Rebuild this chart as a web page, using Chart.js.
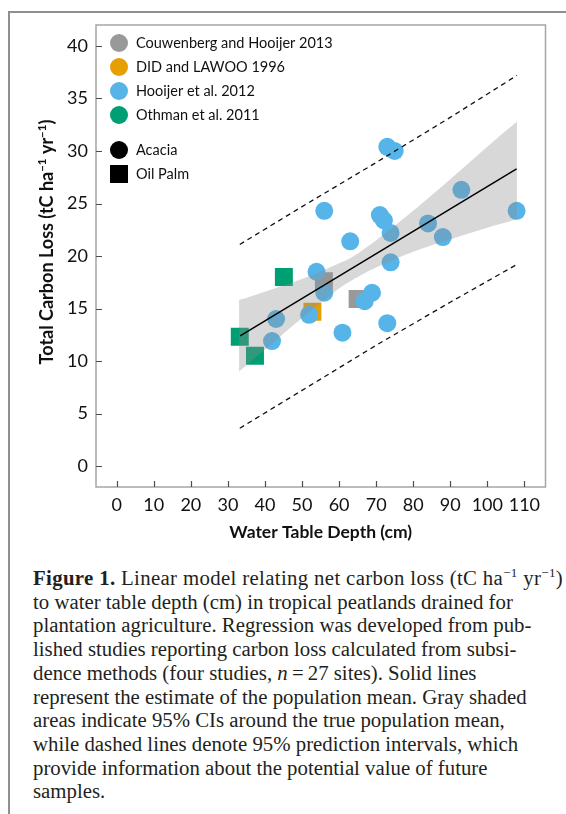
<!DOCTYPE html>
<html lang="en">
<head>
    <meta charset="utf-8" />
    <title>Carbon loss vs water table depth</title>
    <script src="https://cdn.jsdelivr.net/npm/chart.js"></script>
    <style>
        body {
            margin: 0;
            background: #fff;
            width: 566px;
            height: 814px;
            overflow: hidden;
            position: relative;
        }
        #page-frame {
            position: absolute;
            left: 8px;
            top: 11px;
            width: 600px;
            height: 900px;
            border-left: 2px solid #8f8f8f;
            border-top: 2px solid #8f8f8f;
        }
        #chart-box {
            position: absolute;
            left: 0;
            top: 0;
            width: 566px;
            height: 560px;
        }
        #caption {
            position: absolute;
            left: 33px;
            top: 566px;
            font-family: "Liberation Serif", "DejaVu Serif", serif;
            font-size: 20.8px;
            line-height: 23.7px;
            color: #231f20;
            white-space: nowrap;
        }
        #caption sup {
            font-size: 13px;
            line-height: 0;
        }
        #caption .first {
            letter-spacing: 0.35px;
        }
    </style>
</head>
<body>
    <div id="page-frame"></div>
    <div id="chart-box">
        <canvas id="carbonChart" width="566" height="560"></canvas>
    </div>
    <div id="caption">
        <span class="first"><b>Figure 1.</b> Linear model relating net carbon loss (tC ha<sup>&minus;1</sup> yr<sup>&minus;1</sup>)</span><br>
        to water table depth (cm) in tropical peatlands drained for<br>
        plantation agriculture. Regression was developed from pub-<br>
        lished studies reporting carbon loss calculated from subsi-<br>
        dence methods (four studies, <i>n</i>&thinsp;=&thinsp;27 sites). Solid lines<br>
        represent the estimate of the population mean. Gray shaded<br>
        areas indicate 95% CIs around the true population mean,<br>
        while dashed lines denote 95% prediction intervals, which<br>
        provide information about the potential value of future<br>
        samples.
    </div>

    <script>
        // --- data ---
        var hooijerX = [73.0, 75.0, 56.0, 71.0, 72.1, 63.0, 73.9, 84.0, 93.0, 107.9, 88.0,
                        73.9, 53.9, 56.0, 68.9, 66.9, 51.9, 43.0, 41.9, 60.9, 73.0];
        var hooijerY = [30.4, 30.0, 24.3, 23.9, 23.4, 21.4, 22.2, 23.1, 26.3, 24.3, 21.8,
                        19.4, 18.5, 16.5, 16.5, 15.7, 14.4, 14.0, 11.9, 12.7, 13.6];
        var couwenbergX = [55.9, 65.0];
        var couwenbergY = [17.6, 15.9];
        var didX = [52.8];
        var didY = [14.7];
        var othmanX = [45.1, 33.2, 37.3];
        var othmanY = [18.0, 12.3, 10.5];

        // regression line, 95% CI band, 95% prediction interval
        var fitX = [33.3, 107.9];
        var fitY = [12.4, 28.3];
        var ciX = [33, 40, 50, 60, 64, 70, 80, 90, 100, 108];
        var ciUpper = [15.8, 16.6, 17.8, 19.3, 20.0, 21.5, 24.3, 27.3, 30.4, 32.8];
        var ciLower = [9.0, 11.1, 14.1, 16.9, 17.8, 18.9, 20.4, 21.6, 22.7, 23.5];
        var piX = [33.2, 50, 70, 90, 108];
        var piUpper = [21.1, 24.7, 28.9, 33.2, 37.2];
        var piLower = [3.6, 7.2, 11.5, 15.6, 19.2];

        var xTicks = [0, 10, 20, 30, 40, 50, 60, 70, 80, 90, 100, 110];
        var yTicks = [0, 5, 10, 15, 20, 25, 30, 35, 40];

        var studyLabels = ['Couwenberg and Hooijer 2013', 'DID and LAWOO 1996', 'Hooijer et al. 2012', 'Othman et al. 2011'];
        var studyColors = ['#999999', '#E69F00', '#56B4E9', '#009E73'];
        var cropLabels = ['Acacia', 'Oil Palm'];

        function toPoints(xs, ys) {
            return xs.map(function (x, i) { return { x: x, y: ys[i] }; });
        }

        var sansFont = 'Lato, "Open Sans", sans-serif';

        // frame, inner ticks, legend and y title
        var decorPlugin = {
            id: 'decor',
            afterDraw: function (chart) {
                var ctx = chart.ctx;
                var a = chart.chartArea;
                var xs = chart.scales.x, ys = chart.scales.y;
                ctx.save();
                ctx.strokeStyle = '#a6a6a6';
                ctx.lineWidth = 1.5;
                ctx.strokeRect(a.left, a.top, a.right - a.left, a.bottom - a.top);

                ctx.strokeStyle = '#4d4d4d';
                ctx.lineWidth = 1.2;
                ctx.beginPath();
                xs.ticks.forEach(function (t) {
                    var px = Math.round(xs.getPixelForValue(t.value)) + 0.5;
                    ctx.moveTo(px, a.bottom);
                    ctx.lineTo(px, a.bottom - 6);
                });
                ys.ticks.forEach(function (t) {
                    var py = Math.round(ys.getPixelForValue(t.value)) + 0.5;
                    ctx.moveTo(a.left, py);
                    ctx.lineTo(a.left + 6, py);
                });
                ctx.stroke();

                // legend
                var mx = a.left + 23, tx = a.left + 40;
                ctx.font = '14.5px ' + sansFont;
                ctx.textBaseline = 'middle';
                ctx.textAlign = 'left';
                studyLabels.forEach(function (lab, i) {
                    var cy = a.top + 18 + i * 24;
                    ctx.fillStyle = studyColors[i];
                    ctx.beginPath();
                    ctx.arc(mx, cy, 9, 0, Math.PI * 2);
                    ctx.fill();
                    ctx.fillStyle = '#111';
                    ctx.fillText(lab, tx, cy);
                });
                var cy1 = a.top + 125, cy2 = a.top + 149;
                ctx.fillStyle = '#000';
                ctx.beginPath();
                ctx.arc(mx, cy1, 9, 0, Math.PI * 2);
                ctx.fill();
                ctx.fillRect(mx - 9, cy2 - 9, 18, 18);
                ctx.fillStyle = '#111';
                ctx.fillText(cropLabels[0], tx, cy1);
                ctx.fillText(cropLabels[1], tx, cy2);

                // y axis title with superscripts
                var parts = [['Total Carbon Loss (tC ha', 0], ['\u22121', 1], [' yr', 0], ['\u22121', 1], [')', 0]];
                var big = 'bold 18px ' + sansFont, small = 'bold 11.5px ' + sansFont;
                var total = 0;
                parts.forEach(function (p) { ctx.font = p[1] ? small : big; total += ctx.measureText(p[0]).width; });
                ctx.translate(47, 242);
                ctx.rotate(-Math.PI / 2);
                ctx.fillStyle = '#111';
                ctx.textBaseline = 'alphabetic';
                var pos = -total / 2;
                parts.forEach(function (p) {
                    ctx.font = p[1] ? small : big;
                    ctx.fillText(p[0], pos, p[1] ? -1 : 6);
                    pos += ctx.measureText(p[0]).width;
                });
                ctx.restore();
            }
        };

        var bandFill = 'rgba(140,140,140,0.34)';

        function drawChart() {
            var ctx = document.getElementById('carbonChart').getContext('2d');
            new Chart(ctx, {
                type: 'scatter',
                data: {
                    datasets: [
                        {
                            label: 'CI upper', type: 'line', data: toPoints(ciX, ciUpper),
                            borderWidth: 0, pointRadius: 0, fill: '+1', backgroundColor: bandFill,
                            tension: 0.3, order: 1
                        },
                        {
                            label: 'CI lower', type: 'line', data: toPoints(ciX, ciLower),
                            borderWidth: 0, pointRadius: 0, fill: false, tension: 0.3, order: 1
                        },
                        {
                            label: 'Fit', type: 'line', data: toPoints(fitX, fitY),
                            borderColor: '#000', borderWidth: 1.5, pointRadius: 0, fill: false, order: 0
                        },
                        {
                            label: 'PI upper', type: 'line', data: toPoints(piX, piUpper),
                            borderColor: '#111', borderWidth: 1.3, borderDash: [5, 4], pointRadius: 0, fill: false, order: 0
                        },
                        {
                            label: 'PI lower', type: 'line', data: toPoints(piX, piLower),
                            borderColor: '#111', borderWidth: 1.3, borderDash: [5, 4], pointRadius: 0, fill: false, order: 0
                        },
                        {
                            label: studyLabels[2], data: toPoints(hooijerX, hooijerY),
                            pointStyle: 'circle', pointRadius: 9, borderWidth: 0,
                            backgroundColor: studyColors[2], order: 2
                        },
                        {
                            label: studyLabels[0], data: toPoints(couwenbergX, couwenbergY),
                            pointStyle: 'rect', pointRadius: 12.7, borderWidth: 0,
                            backgroundColor: studyColors[0], order: 3
                        },
                        {
                            label: studyLabels[1], data: toPoints(didX, didY),
                            pointStyle: 'rect', pointRadius: 12.7, borderWidth: 0,
                            backgroundColor: studyColors[1], order: 3
                        },
                        {
                            label: studyLabels[3], data: toPoints(othmanX, othmanY),
                            pointStyle: 'rect', pointRadius: 12.7, borderWidth: 0,
                            backgroundColor: studyColors[3], order: 3
                        }
                    ]
                },
                options: {
                    responsive: false,
                    animation: false,
                    layout: { padding: { left: 0, top: 25, right: 20.5, bottom: 0 } },
                    plugins: {
                        legend: { display: false },
                        tooltip: { enabled: false }
                    },
                    scales: {
                        x: {
                            type: 'linear',
                            min: -5.6,
                            max: 115.7,
                            afterFit: function (s) { s.height = 73; },
                            afterBuildTicks: function (s) { s.ticks = xTicks.map(function (v) { return { value: v }; }); },
                            grid: { display: false, drawTicks: false },
                            border: { display: false },
                            ticks: {
                                padding: 7,
                                maxRotation: 0,
                                autoSkip: false,
                                color: '#111',
                                font: { family: sansFont, size: 18 }
                            },
                            title: {
                                display: true,
                                text: 'Water Table Depth (cm)',
                                color: '#111',
                                font: { family: sansFont, size: 17.5, weight: 'bold' },
                                padding: { top: 0, bottom: 17 }
                            }
                        },
                        y: {
                            type: 'linear',
                            min: -2,
                            max: 42,
                            afterFit: function (s) { s.width = 96; },
                            afterBuildTicks: function (s) { s.ticks = yTicks.map(function (v) { return { value: v }; }); },
                            grid: { display: false, drawTicks: false },
                            border: { display: false },
                            ticks: {
                                padding: 8,
                                autoSkip: false,
                                color: '#111',
                                font: { family: sansFont, size: 18 }
                            }
                        }
                    }
                },
                plugins: [decorPlugin]
            });
        }

        Promise.all([
            document.fonts.load('18px Lato'),
            document.fonts.load('bold 17px Lato')
        ]).then(drawChart, drawChart);
    </script>
</body>
</html>
